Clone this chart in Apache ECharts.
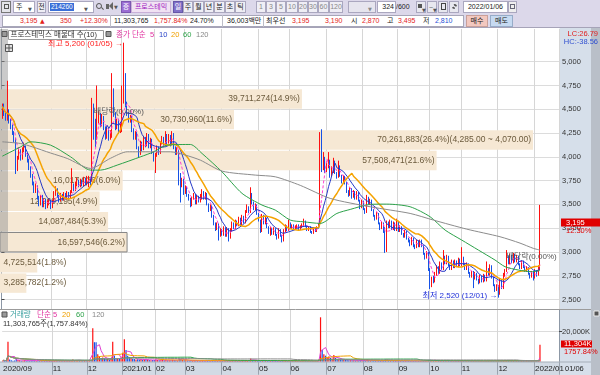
<!DOCTYPE html>
<html><head><meta charset="utf-8">
<script src="https://cdn.jsdelivr.net/npm/echarts@6/dist/echarts.min.js"></script>
<style>
html,body{margin:0;padding:0;width:600px;height:375px;overflow:hidden;background:#fff}
#chart{position:absolute;left:0;top:0;width:600px;height:375px}
#tb{position:absolute;left:0;top:0;width:600px;height:28px;background:#dcd8ea;z-index:5;font-family:'Liberation Sans','Noto Sans CJK KR','DejaVu Sans',sans-serif;font-size:7px;color:#222;border-bottom:1px solid #a6a3b8;box-sizing:border-box}
#tb div,#tb span{position:absolute;white-space:nowrap;box-sizing:border-box}
#tb .b{top:1px;height:12px;line-height:10px;border:1px solid #aaa7bf;background:#efeef5;text-align:center}
#tb .t{top:16px;line-height:10px;height:10px}
#tb .r{color:#e3231c}
#tb .sep{top:15px;width:1px;height:12px;background:#bdbdc8}
#tb .ar{font-family:'DejaVu Sans',sans-serif;font-size:5px;color:#555}
</style></head>
<body>
<div id="chart"></div>
<div id="tb">
  <div class="b" style="left:1px;width:10px;background:#e4e4ea;border-color:#777"><span style="left:2px;top:2px;width:5px;height:5px;border:1px solid #555"></span></div>
  <div class="b" style="left:13px;width:22px;background:#fff;text-align:left;padding-left:2px">주<span class="ar" style="left:14px;top:2px">▼</span></div>
  <div class="b" style="left:37px;width:9px">전</div>
  <div class="b" style="left:48px;width:46px;background:#fff;text-align:left"><span style="left:1px;top:1px;height:8px;line-height:8px;background:#3a6fd8;color:#fff;padding:0 1px;font-size:6.5px">214260</span><span class="ar" style="left:35px;top:2px">▼</span></div>
  <div style="left:96px;top:3px;width:6px;height:6px;border:1px solid #555;border-radius:50%"></div>
  <div style="left:101px;top:8px;width:3px;height:1px;background:#555;transform:rotate(45deg)"></div>
  <div style="left:106px;top:4px;width:3px;height:5px;background:#666"></div>
  <div style="left:109px;top:2px;width:0;height:0;border-top:4px solid transparent;border-bottom:4px solid transparent;border-right:4px solid #666"></div>
  <span class="ar" style="left:114px;top:4px">▼</span>
  <div class="b" style="left:121px;width:10px;background:#9b6dd3;color:#fff;border-color:#7c58b0">증</div>
  <div class="b" style="left:131px;width:40px;background:#f1e2f3;color:#a020c0;border-color:#c9b0d8">프로스테믹</div>
  <div class="b" style="left:173px;width:10px;background:#8070c8;color:#fff;border-color:#6657a8">일</div>
  <div class="b" style="left:183px;width:10px">주</div>
  <div class="b" style="left:193px;width:11px">월</div>
  <div class="b" style="left:204px;width:10px">년</div>
  <div class="b" style="left:214px;width:11px">분</div>
  <div class="b" style="left:225px;width:10px">초</div>
  <div class="b" style="left:235px;width:11px">틱</div>
  <div class="b" style="left:256px;width:10px;color:#888">1</div>
  <div class="b" style="left:266px;width:10px;color:#888">3</div>
  <div class="b" style="left:276px;width:10px;color:#888">5</div>
  <div class="b" style="left:286px;width:12px;color:#888">10</div>
  <div class="b" style="left:298px;width:10px;color:#888">20</div>
  <div class="b" style="left:308px;width:10px;color:#888">30</div>
  <div class="b" style="left:318px;width:11px;color:#888">60</div>
  <div class="b" style="left:329px;width:14px;color:#888">120</div>
  <div class="b" style="left:348px;width:28px;background:#e6e5ee"><span class="ar" style="left:19px;top:2px;color:#888">▼</span></div>
  <div class="b" style="left:377px;width:19px;background:#fff;text-align:right;padding-right:1px">324</div>
  <span style="left:396px;top:2px;line-height:10px">/600</span>
  <div class="b" style="left:416px;width:10px;background:#e8e8ef"><span style="left:1px;top:2px;width:4px;height:4px;background:#555"></span><span class="ar" style="left:5px;top:3px">▼</span></div>
  <div class="b" style="left:427px;width:10px;background:#e8e8ef"><span style="left:1px;top:2px;font-size:7px;line-height:7px;color:#666">~</span><span class="ar" style="left:5px;top:3px">▼</span></div>
  <div class="b" style="left:438px;width:10px;background:#e8e8ef"><span style="left:2px;top:1px;width:5px;height:7px;border:1px solid #444"></span></div>
  <div class="b" style="left:449px;width:10px;background:#e8e8ef"><span style="left:2px;top:2px;width:5px;height:5px;border:2px dotted #555;border-radius:50%"></span></div>
  <div class="b" style="left:463px;width:45px;background:#fff">2022/01/06</div>
  <div class="b" style="left:508px;width:9px;background:#eee"><span style="left:1px;top:2px;width:5px;height:5px;border:1px solid #667"></span></div>

  <div style="left:2px;top:15px;width:462px;height:12px;background:#fff;border:1px solid #a7a6b8"></div>
  <span class="t r" style="left:20px">3,195</span>
  <span class="t r" style="left:40px;font-family:'DejaVu Sans';font-size:6px">▲</span>
  <span class="t r" style="left:60px">350</span>
  <span class="t r" style="left:80px">+12.30%</span>
  <div class="sep" style="left:110px"></div>
  <span class="t" style="left:114px">11,303,765</span>
  <span class="t r" style="left:154px">1,757.84%</span>
  <span class="t" style="left:190px">24.70%</span>
  <div class="sep" style="left:222px"></div>
  <span class="t" style="left:227px">36,003백만</span>
  <div class="sep" style="left:263px"></div>
  <span class="t" style="left:266px">최우선</span>
  <span class="t r" style="left:292px">3,195</span>
  <span class="t r" style="left:325px">3,190</span>
  <span class="t" style="left:351px">시</span>
  <span class="t r" style="left:362px">2,870</span>
  <span class="t" style="left:387px">고</span>
  <span class="t r" style="left:398px">3,495</span>
  <span class="t" style="left:423px">저</span>
  <span class="t" style="left:435px;color:#1f4fd6">2,810</span>
  <div style="left:466px;top:15px;width:22px;height:12px;line-height:10px;text-align:center;background:#f3c8bf;border:1px solid #c9a09a">매수</div>
  <div style="left:490px;top:15px;width:23px;height:12px;line-height:10px;text-align:center;background:#c6daf1;border:1px solid #97acc8">매도</div>
</div>
<script>
// ---------------- DATA ----------------
const HOLIDAYS = ['2020-09-30','2020-10-01','2020-10-02','2020-10-09','2020-12-25','2020-12-31','2021-01-01','2021-02-11','2021-02-12','2021-03-01','2021-05-05','2021-05-19','2021-08-16','2021-09-20','2021-09-21','2021-09-22','2021-10-04','2021-10-11','2021-12-31'];
const FIRST_DAY = '2020-09-15';
const LAST_DAY = '2022-01-06';

// [open, close, low, high] per trading day
const ohlc = [
[4420,4530,4400,4560],[4520,4460,4430,4560],[4460,4410,4380,4480],[4400,4470,4380,4800],[4460,4380,4350,4500],
[4380,4320,4290,4400],[4320,4250,4230,4340],[4250,4180,4150,4270],[4180,3860,3820,4200],[3870,3990,3850,4010],
[3990,4060,3970,4100],[4060,3980,3960,4080],[3980,4080,3970,4100],[4080,4110,4050,4150],[4100,4020,4000,4120],
[4020,3960,3940,4040],[3960,3880,3860,3980],[3880,3800,3780,3900],[3800,3720,3700,3820],[3720,3650,3620,3740],
[3640,3690,3620,3720],[3690,3570,3550,3700],[3570,3500,3480,3590],[3500,3580,3490,3600],[3580,3490,3470,3600],
[3490,3540,3470,3560],[3540,3470,3450,3560],[3470,3520,3460,3540],[3500,3540,3490,3560],[3530,3470,3450,3550],
[3470,3530,3460,3550],[3530,3620,3520,3640],[3600,3660,3590,3690],[3650,3580,3570,3670],[3590,3540,3520,3600],
[3540,3600,3530,3620],[3600,3550,3540,3610],[3550,3610,3540,3630],[3610,3560,3550,3620],[3560,3620,3550,3640],
[3620,3570,3560,3630],[3570,3630,3560,3650],[3630,3700,3620,3880],[3700,3650,3640,3720],[3650,3720,3640,3740],
[3700,3740,3690,3780],[3740,3690,3680,3760],[3690,3750,3680,3770],[3750,3700,3690,3760],[3700,3770,3690,3790],
[3770,3710,3700,3780],[3710,3780,3700,3800],[3700,3780,3680,3800],[3780,3740,3700,3790],[3760,4500,3740,4620],
[4480,4250,4180,4560],[4250,4180,4100,4400],[4200,4400,4180,4750],[4380,4440,4350,4480],[4440,4330,4310,4460],
[4330,4420,4320,4450],[4420,4300,4280,4430],[4300,4200,4180,4320],[4200,4290,4190,4310],[4290,4190,4170,4300],
[4190,4260,4180,4280],[4230,4700,4200,4880],[4680,4450,4420,4720],[4450,4300,4280,4470],[4300,4380,4290,4400],
[4380,4260,4240,4400],[4260,4340,4250,4360],[4300,4700,4260,4750],[4650,4750,4560,5200],[4750,4560,4520,4880],
[4560,4450,4430,4580],[4450,4380,4360,4470],[4380,4420,4360,4440],[4420,4280,4260,4430],[4280,4200,4180,4300],
[4200,4250,4180,4270],[4250,4100,4080,4260],[4100,4030,3990,4110],[4030,4150,4020,4170],[4150,4080,4060,4160],
[4080,4200,4070,4220],[4200,4120,4100,4210],[4120,4230,4110,4250],[4230,4100,4090,4240],[4100,4180,4090,4200],
[4180,4050,4030,4190],[4050,3980,3950,4060],[3900,4020,3830,4040],[4020,4100,4000,4120],[4100,4040,4020,4110],
[4040,4140,4030,4160],[4140,4200,4130,4220],[4200,4120,4100,4210],[4120,4230,4110,4270],[4230,4150,4130,4240],
[4150,4220,4140,4240],[4220,4130,4110,4230],[4130,4240,4120,4270],[4240,4100,4080,4250],[4100,4040,4020,4110],
[4040,4080,4020,4100],[4060,3800,3700,4070],[3800,3720,3520,3830],[3700,3760,3680,3780],[3760,3620,3600,3770],
[3620,3680,3610,3700],[3680,3600,3580,3690],[3600,3560,3540,3610],[3560,3490,3470,3570],[3490,3560,3480,3580],
[3560,3600,3550,3620],[3600,3510,3500,3610],[3510,3580,3500,3600],[3580,3530,3520,3590],[3530,3590,3520,3610],
[3560,3630,3550,3660],[3630,3560,3550,3640],[3560,3610,3550,3630],[3610,3500,3490,3620],[3500,3440,3420,3510],
[3440,3480,3430,3500],[3480,3380,3360,3490],[3380,3300,3280,3390],[3300,3240,3220,3310],[3240,3290,3230,3310],
[3290,3170,3120,3300],[3170,3230,3160,3250],[3230,3180,3170,3240],[3180,3250,3170,3270],[3250,3170,3160,3260],
[3170,3240,3160,3260],[3240,3150,3110,3250],[3150,3230,3140,3250],[3230,3300,3220,3320],[3300,3250,3240,3310],
[3250,3320,3240,3340],[3320,3280,3270,3330],[3280,3350,3270,3370],[3350,3290,3280,3360],[3290,3370,3280,3390],
[3370,3310,3300,3380],[3310,3420,3300,3440],[3420,3470,3410,3500],[3470,3420,3410,3480],[3420,3600,3410,3680],
[3600,3520,3500,3620],[3520,3450,3440,3530],[3450,3490,3440,3510],[3490,3400,3390,3500],[3400,3330,3320,3410],
[3330,3240,3200,3340],[3220,3380,3210,3400],[3380,3300,3290,3390],[3300,3350,3290,3370],[3350,3260,3250,3360],
[3260,3200,3190,3270],[3180,3240,3170,3260],[3240,3190,3180,3250],[3190,3240,3180,3260],[3240,3180,3170,3250],
[3180,3150,3130,3190],[3150,3230,3140,3250],[3230,3170,3160,3240],[3170,3120,3100,3180],[3120,3220,3110,3240],
[3220,3270,3210,3290],[3270,3230,3220,3280],[3230,3300,3220,3340],[3300,3250,3240,3310],[3250,3280,3240,3290],
[3280,3240,3230,3290],[3240,3270,3230,3280],[3260,3280,3250,3290],[3280,3240,3230,3290],[3240,3270,3230,3280],
[3260,3290,3250,3300],[3280,3320,3270,3350],[3320,3270,3260,3330],[3270,3230,3220,3280],[3230,3260,3220,3270],
[3260,3210,3200,3270],[3210,3200,3190,3220],[3200,3250,3190,3260],[3250,3220,3210,3260],[3220,3260,3210,3270],
[3260,3280,3250,3300],[3300,4260,3290,4260],[4230,3880,3840,4290],[3880,3990,3860,4050],[3990,3850,3830,4000],
[3850,3920,3840,3940],[3900,3960,3880,4050],[3960,3800,3780,3970],[3800,3880,3790,3900],[3840,3950,3830,3990],
[3950,3830,3820,3960],[3830,3790,3770,3840],[3790,3900,3780,3960],[3900,3800,3790,3910],[3800,3740,3720,3810],
[3740,3790,3730,3810],[3790,3730,3710,3800],[3730,3640,3620,3740],[3640,3600,3580,3650],[3600,3660,3590,3680],
[3660,3580,3560,3670],[3580,3630,3570,3650],[3630,3560,3550,3640],[3560,3620,3550,3640],[3620,3540,3530,3630],
[3540,3470,3450,3550],[3470,3530,3460,3550],[3530,3450,3440,3540],[3450,3420,3400,3460],[3420,3570,3410,3600],
[3570,3510,3500,3580],[3510,3540,3500,3560],[3540,3440,3430,3550],[3440,3380,3370,3450],[3380,3350,3330,3390],
[3350,3400,3340,3420],[3400,3300,3290,3410],[3300,3250,3230,3310],[3250,3300,3240,3320],[3300,3220,3200,3310],
[3220,3010,2990,3260],[3010,3310,3000,3330],[3310,3260,3250,3320],[3260,3320,3250,3340],[3320,3240,3230,3330],
[3240,3300,3230,3320],[3300,3230,3220,3310],[3230,3310,3220,3350],[3310,3220,3210,3320],[3220,3260,3210,3280],
[3260,3190,3180,3270],[3190,3160,3150,3200],[3160,3210,3150,3230],[3210,3140,3130,3220],[3140,3120,3100,3150],
[3120,3080,3060,3130],[3080,3140,3070,3160],[3140,3060,3050,3150],[3060,3050,3030,3080],[3050,3110,3040,3130],
[3110,3060,3050,3120],[3060,3120,3050,3130],[3120,3060,3050,3130],[3060,2980,2970,3070],[2980,2940,2920,2990],
[2940,2990,2930,3010],[2990,2820,2800,3000],[2820,2640,2610,2830],[2640,2720,2630,2740],[2720,2690,2670,2750],
[2690,2780,2680,2790],[2760,2840,2750,2860],[2840,2780,2770,2850],[2780,2880,2770,2900],[2880,2820,2810,2890],
[2820,2950,2810,3020],[2950,2880,2870,2960],[2880,2950,2870,2970],[2950,2860,2850,2960],[2860,2820,2810,2870],
[2820,2900,2810,2920],[2900,2840,2830,2910],[2840,2900,2830,2920],[2900,2850,2840,2910],[2850,2920,2840,2940],
[2920,2860,2850,2930],[2860,2940,2850,3050],[2940,2870,2860,2950],[2870,2820,2810,2880],[2820,2870,2810,2890],
[2870,2780,2770,2880],[2780,2740,2730,2790],[2740,2790,2730,2800],[2790,2720,2620,2800],[2720,2770,2710,2790],
[2770,2710,2700,2780],[2710,2680,2660,2720],[2680,2740,2670,2760],[2740,2690,2680,2750],[2690,2750,2680,2770],
[2750,2700,2690,2760],[2700,2820,2690,2900],[2820,2760,2750,2830],[2760,2850,2750,2870],[2850,2730,2720,2860],
[2730,2650,2640,2740],[2650,2600,2580,2660],[2600,2640,2590,2660],[2640,2560,2520,2650],[2560,2700,2550,2720],
[2700,2620,2610,2710],[2620,2760,2610,2780],[2760,2800,2740,2820],[2800,2950,2790,3020],[2950,2880,2870,2960],
[2880,2960,2870,2980],[2960,2890,2880,2970],[2890,2970,2880,2990],[2970,2900,2890,2980],[2900,2950,2890,2970],
[2950,2870,2860,2960],[2870,2830,2820,2880],[2830,2900,2820,2910],[2900,2840,2830,2910],[2840,2800,2790,2850],
[2800,2830,2790,2850],[2830,2770,2760,2840],[2770,2740,2720,2780],[2740,2790,2730,2800],[2790,2730,2700,2800],
[2730,2800,2720,2820],[2800,2760,2740,2810],[2760,2845,2750,2860],[2870,3195,2810,3495]
];

// volume per day, thousands of shares
const volumesK = [
900,700,600,13300,1500,900,700,800,2000,1200,
900,700,800,900,600,500,700,800,900,700,
600,800,700,600,500,600,500,400,500,600,
500,700,800,600,500,500,400,600,500,400,
500,600,1500,800,900,1000,700,800,600,900,
700,900,800,1200,22300,13000,13000,5000,3500,2500,
2800,2200,1800,2000,1500,2500,13300,4000,2500,2000,
1800,2200,6000,15000,7800,4000,3000,2500,2000,1800,
1500,1600,1400,1800,1300,1500,1200,1400,1100,1000,
1100,1200,1500,1200,1000,1100,1300,900,1200,900,
1000,900,1200,1100,900,800,2000,1800,1200,1000,
900,800,700,800,700,900,700,600,500,600,
800,600,500,700,600,500,700,800,600,500,
900,700,500,600,500,600,700,600,700,500,
600,500,600,500,700,500,900,1000,700,2200,
1200,800,700,700,600,800,1200,700,600,500,
500,600,500,500,600,500,600,500,700,600,
500,400,700,500,400,400,500,400,400,500,
500,800,500,400,400,500,400,400,500,400,
600,29600,8000,5000,4000,3000,3500,2500,2200,4500,
2500,1800,2000,1500,1400,1300,1200,1300,1000,1000,
900,1000,800,900,800,900,700,800,700,1600,
900,700,800,700,600,700,600,600,500,600,
1500,1400,700,600,600,500,600,800,600,500,
500,500,400,500,500,400,500,500,400,500,
400,500,400,500,500,400,1200,1300,900,600,
600,700,500,700,600,1000,600,600,500,500,
500,400,500,400,500,400,1000,600,500,500,
500,500,400,600,500,400,400,500,400,400,
400,700,500,600,500,600,500,500,800,700,
500,700,600,1000,700,600,500,600,500,500,
500,400,500,400,400,500,400,400,500,400,
500,500,643,11304
];

// 60-day and 120-day moving averages (day index, value)
const ma60Idx = [0,11,17,29,41,53,59,69,83,91,99,113,120,132,144,156,164,173,181,191,201,209,221,231,245,257,266,276,286,296,302,310,318,323];
const ma60Val = [4007,4105,4158,4123,4000,3860,3860,3913,4000,4053,4123,4130,4035,3842,3616,3493,3440,3335,3317,3300,3405,3447,3500,3503,3475,3370,3230,3125,3020,2915,2845,2810,2792,2805];
const ma120Idx = [0,11,18,29,39,53,65,75,89,101,110,119,132,152,164,179,197,221,245,259,279,299,311,319,323];
const ma120Val = [4158,4140,4105,4040,3983,3878,3985,4053,4053,4053,4018,3965,3850,3808,3790,3700,3563,3475,3405,3335,3240,3160,3093,3038,3020];

// volume profile (매물대): lower bound of each price band, band height, volume, share
const profileLo = [4500,4285,4070,3855,3640,3425,3210,2995,2780,2565];
const PROFILE_STEP = 215;
const profileVol = [39711274,30730960,70261883,57508471,16017026,12969195,14087484,16597546,4725514,3285782];
const profilePct = [14.9,11.6,26.4,21.6,6.0,4.9,5.3,6.2,1.8,1.2];

const priceTicks = [2500,2750,3000,3250,3500,3750,4000,4250,4500,4750,5000];
const volTicksK = [10000,20000];
const volLabelTicksK = [20000];

const annotations = [
  {idx:73, price:5200, text:'최고 5,200 (01/05) →', kind:'high'},
  {idx:298, price:2520, text:'최저 2,520 (12/01) →', kind:'low'},
  {idx:70, price:4470, text:'배당락(0.00%)', kind:'div'},
  {idx:318, price:2950, text:'배당락(0.00%)', kind:'div'}
];

// ---------------- BUILD ----------------
function tradingDays(start, end) {
  const out = [];
  const d = new Date(start + 'T00:00:00Z');
  const e = new Date(end + 'T00:00:00Z');
  while (d <= e) {
    const wd = d.getUTCDay();
    const s = d.toISOString().slice(0, 10);
    if (wd !== 0 && wd !== 6 && HOLIDAYS.indexOf(s) < 0) out.push(s);
    d.setUTCDate(d.getUTCDate() + 1);
  }
  return out;
}
const dates = tradingDays(FIRST_DAY, LAST_DAY);
const N_PAD = 11;
const cats = dates.concat(Array.from({length: N_PAD}, (_, k) => 'pad' + k));
const N = cats.length;
const monthStart = new Set();
dates.forEach((s, i) => { if (i > 0 && s.slice(0, 7) !== dates[i - 1].slice(0, 7)) monthStart.add(i); });
const gridFn = (i) => monthStart.has(i) && i >= 15;
const labelFn = (i) => i === 0 || gridFn(i);
function dateLabel(v, i) {
  if (i === 0) return v.slice(0, 4) + '/' + v.slice(5, 7);
  const m = v.slice(5, 7);
  return m === '01' ? v.slice(0, 4) + '/01' : m;
}

function movingAvg(arr, n) {
  return arr.map((_, i) => {
    const s = Math.max(0, i - n + 1);
    let sum = 0;
    for (let k = s; k <= i; k++) sum += arr[k];
    return +(sum / (i - s + 1)).toFixed(1);
  });
}
function sparse(idx, vals) {
  const a = new Array(N).fill(null);
  idx.forEach((k, j) => { a[k] = vals[j]; });
  return a;
}
const closes = ohlc.map(d => d[1]);
const lastClose = closes[closes.length - 1];
const fmtInt = v => Math.round(v).toLocaleString('en-US');
const fmt2 = v => v.toLocaleString('en-US', {minimumFractionDigits: 2, maximumFractionDigits: 2});

const FONT = "'Liberation Sans','Noto Sans CJK KR',sans-serif";
const cfont = (px) => px + 'px "Liberation Sans", "Noto Sans CJK KR", sans-serif';
const RED = '#ff1010', BLUE = '#1652e6';

const measureCtx = document.createElement('canvas').getContext('2d');
const BAND_FONT = cfont(8.5);
measureCtx.font = BAND_FONT;

const maxBand = profileVol.indexOf(Math.max.apply(null, profileVol));
const bandData = profileVol.map((v, k) => [v, profileLo[k], profileLo[k] + PROFILE_STEP, profilePct[k]]);

function renderBand(params, api) {
  const k = params.dataIndex;
  const vol = api.value(0), lo = api.value(1), hi = api.value(2), pct = api.value(3);
  const tl = api.coord([0, hi]);
  const br = api.coord([vol, lo]);
  const isCur = lastClose >= lo && lastClose < hi;
  let text = fmtInt(vol) + '(' + pct.toFixed(1) + '%)';
  if (k === maxBand) text += '(' + fmt2(hi) + ' ~ ' + fmt2(lo) + ')';
  const tw = measureCtx.measureText(text).width;
  const barW = br[0] - tl[0];
  const fits = tw + 4 < barW;
  const tx = fits ? br[0] - 2 : tl[0] + 2;
  return {
    type: 'group',
    children: [
      {type: 'rect', shape: {x: tl[0] - 1.5, y: tl[1] + 0.5, width: barW + 1.5, height: br[1] - tl[1] - 1},
       style: {fill: '#f6e8d4', stroke: isCur ? '#858585' : null, lineWidth: isCur ? 1 : 0}},
      {type: 'text', style: {text: text, x: tx, y: (tl[1] + br[1]) / 2, align: fits ? 'right' : 'left', textAlign: fits ? 'right' : 'left',
       verticalAlign: 'middle', textVerticalAlign: 'middle', fill: '#6b5a3c', font: BAND_FONT}}
    ]
  };
}

const volBars = volumesK.map((v, i) => ({value: v, itemStyle: {color: ohlc[i][1] >= ohlc[i][0] ? RED : BLUE}}));

function annLabel(a) {
  if (a.kind === 'high') return {show: true, position: 'inside', align: 'right', offset: [-1, 1], formatter: a.text, color: '#ff1a1a', fontSize: 8, fontFamily: FONT};
  if (a.kind === 'low') return {show: true, position: 'inside', align: 'right', offset: [-1, -2], formatter: a.text, color: '#1f2fd8', fontSize: 8, fontFamily: FONT};
  return {show: true, position: 'inside', formatter: a.text, color: '#555', fontSize: 8, fontFamily: FONT};
}

function txt(x, y, text, fill, size, align) {
  return {type: 'text', x: x, y: y, z: 50, silent: true,
    style: {text: text, fill: fill, font: cfont(size || 7.5), textAlign: align || 'left', textVerticalAlign: 'middle'}};
}
function rect(x, y, w, h, fill, stroke, z) {
  return {type: 'rect', z: z === undefined ? -10 : z, silent: true, shape: {x: x, y: y, width: w, height: h},
    style: {fill: fill, stroke: stroke || null, lineWidth: stroke ? 1 : 0}};
}

const graphics = [
  rect(559.5, 28, 31.5, 347, '#d6dfea'),
  rect(591, 28, 9, 347, '#b9bfc8'),
  rect(0, 362, 559.5, 13, '#d2dae4'),
  rect(0, 29, 8, 222, 'rgba(150,150,150,0.5)', null, 1.5),
  {type: 'line', z: 20, silent: true, shape: {x1: 0, y1: 309.5, x2: 591, y2: 309.5}, style: {stroke: '#9b9b9b', lineWidth: 1}},
  {type: 'line', z: 20, silent: true, shape: {x1: 0, y1: 362, x2: 591, y2: 362}, style: {stroke: '#a4adb8', lineWidth: 1}},
  // main legend
  rect(2, 31.5, 5, 5, '#9a9a9a', '#555', 40),
  rect(8.5, 30.5, 95, 9, '#ffffff', '#9a9a9a', 40),
  txt(10.5, 35.2, '프로스테믹스 매물대 수(10)', '#333', 7.5),
  rect(106, 31.5, 5, 5, '#9a9a9a', '#555', 40),
  txt(116, 35.2, '종가 단순', '#e0309f', 7.5),
  txt(150, 35.2, '5', '#e0309f', 7.5),
  txt(159, 35.2, '10', '#2a44c8', 7.5),
  txt(171, 35.2, '20', '#f0a000', 7.5),
  txt(183, 35.2, '60', '#2fa34a', 7.5),
  txt(196, 35.2, '120', '#888888', 7.5),
  rect(5.5, 44.5, 7, 7, '#e2e2e2', '#555', 40),
  {type: 'line', z: 41, silent: true, shape: {x1: 5.5, y1: 48, x2: 12.5, y2: 48}, style: {stroke: '#555', lineWidth: 1}},
  {type: 'line', z: 41, silent: true, shape: {x1: 9, y1: 44.5, x2: 9, y2: 51.5}, style: {stroke: '#555', lineWidth: 1}},
  txt(598, 33.5, 'LC:26.79', '#e02020', 7.5, 'right'),
  txt(598, 42, 'HC:-38.56', '#3050d0', 7.5, 'right'),
  // current price tag
  rect(561, 218.5, 39, 8, '#e00000', null, 45),
  txt(566, 222.6, '3,195', '#ffffff', 7.5),
  txt(566, 230.8, '12.30%', '#e00000', 7.5),
  // volume legend
  rect(2, 312, 5, 5, '#9a9a9a', '#555', 40),
  txt(10, 315, '거래량', '#3aa0a0', 7.5),
  txt(37, 315, '단순 5', '#e0309f', 7.5),
  txt(62, 315, '20', '#f0a000', 7.5),
  txt(76, 315, '60', '#2fa34a', 7.5),
  txt(92, 315, '120', '#888888', 7.5),
  txt(3, 324, '11,303,765주(1,757.84%)', '#333', 7.5),
  rect(594, 311, 5, 5, '#555', '#eee', 40),
  rect(561, 340.5, 31, 7, '#e00000', null, 45),
  txt(564, 344.2, '11,304K', '#ffffff', 7.5),
  txt(564, 351.5, '1757.84%', '#e00000', 7.5),
  txt(565, 369, '01/06', '#222', 7.5)
];

const lineS = (name, data, color, width, xi, yi, extra) => Object.assign({
  name: name, type: 'line', xAxisIndex: xi, yAxisIndex: yi, data: data, symbol: 'none', silent: true,
  lineStyle: {color: color, width: width}, z: 4
}, extra || {});

const vol5 = movingAvg(volumesK, 5), vol20 = movingAvg(volumesK, 20), vol60 = movingAvg(volumesK, 60), vol120 = movingAvg(volumesK, 120);

const option = {
  animation: false,
  backgroundColor: '#ffffff',
  textStyle: {fontFamily: FONT},
  grid: [
    {left: 1.5, top: 29, width: 557.6, height: 280.5},
    {left: 1.5, top: 309.5, width: 557.6, height: 52.2}
  ],
  xAxis: [
    {type: 'category', gridIndex: 0, data: cats, boundaryGap: true,
     axisLine: {show: false}, axisTick: {show: false}, axisLabel: {show: false},
     splitLine: {show: true, interval: gridFn, lineStyle: {color: '#d6d6d6', width: 1}}},
    {type: 'category', gridIndex: 1, data: cats, boundaryGap: true,
     axisLine: {show: false},
     axisTick: {show: true, interval: gridFn, length: 13, inside: false, lineStyle: {color: '#9aa3ae'}},
     axisLabel: {show: true, interval: labelFn, formatter: dateLabel, align: 'left', margin: 3, fontSize: 8, color: '#222', fontFamily: FONT},
     splitLine: {show: true, interval: gridFn, lineStyle: {color: '#d6d6d6', width: 1}}},
    {type: 'value', gridIndex: 0, position: 'top', min: 0, max: 73700000, show: false}
  ],
  yAxis: [
    {type: 'value', gridIndex: 0, position: 'right', min: 2395, max: 5344, scale: true,
     axisLine: {show: true, lineStyle: {color: '#8d98a6'}},
     axisTick: {show: true, length: 3, inside: false, customValues: priceTicks, lineStyle: {color: '#444'}},
     axisLabel: {show: true, customValues: priceTicks, margin: 3, fontSize: 7.5, color: '#333', fontFamily: FONT,
       formatter: v => fmtInt(v)},
     splitLine: {show: true, customValues: priceTicks, lineStyle: {color: '#dcdcdc'}}},
    {type: 'value', gridIndex: 1, position: 'right', min: 0, max: 34800,
     axisLine: {show: true, lineStyle: {color: '#8d98a6'}},
     axisTick: {show: true, length: 3, inside: false, customValues: volLabelTicksK, lineStyle: {color: '#444'}},
     axisLabel: {show: true, customValues: volLabelTicksK, margin: 3, fontSize: 7.5, color: '#333', fontFamily: FONT,
       formatter: v => fmtInt(v) + 'K'},
     splitLine: {show: true, customValues: volTicksK, lineStyle: {color: '#dcdcdc'}}}
  ],
  series: [
    {type: 'custom', name: 'profile', xAxisIndex: 2, yAxisIndex: 0, data: bandData, renderItem: renderBand, z: 1, silent: true, clip: false},
    {type: 'candlestick', name: 'price', xAxisIndex: 0, yAxisIndex: 0, data: ohlc, z: 3, barWidth: 1,
     itemStyle: {color: RED, color0: BLUE, borderColor: RED, borderColor0: BLUE, borderWidth: 1},
     markPoint: {symbol: 'circle', symbolSize: 1, silent: true, itemStyle: {color: 'rgba(0,0,0,0)'},
       data: annotations.map(a => ({coord: [a.idx, a.price], value: a.text, label: annLabel(a)}))}},
    lineS('ma5', movingAvg(closes, 5), '#ff3fd0', 1, 0, 0, {lineStyle: {color: '#ff3fd0', width: 1, type: [3, 2]}}),
    lineS('ma10', movingAvg(closes, 10), '#2438c8', 1, 0, 0),
    lineS('ma20', movingAvg(closes, 20), '#f5a300', 1.5, 0, 0),
    lineS('ma60', sparse(ma60Idx, ma60Val), '#2ca24a', 1, 0, 0, {connectNulls: true, smooth: 0.25}),
    lineS('ma120', sparse(ma120Idx, ma120Val), '#8c8c8c', 1, 0, 0, {connectNulls: true, smooth: 0.25}),
    {type: 'bar', name: 'volume', xAxisIndex: 1, yAxisIndex: 1, data: volBars, barWidth: 1.2, z: 3, silent: true},
    lineS('v5', vol5, '#e040d0', 1, 1, 1),
    lineS('v20', vol20, '#f0a000', 1, 1, 1),
    lineS('v60', vol60, '#2ca24a', 1, 1, 1),
    lineS('v120', vol120, '#8c8c8c', 1, 1, 1)
  ],
  graphic: graphics
};

const chart = echarts.init(document.getElementById('chart'), null, {renderer: 'canvas'});
chart.setOption(option);
</script>
</body></html>
